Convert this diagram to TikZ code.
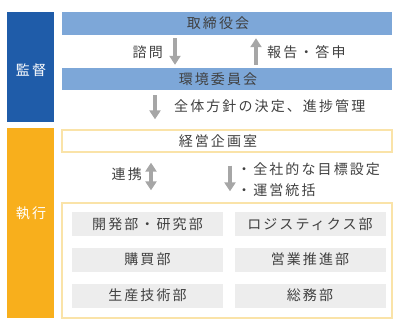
\documentclass[tikz,border=0pt]{standalone}
\usepackage{fontspec}
\setmainfont{Noto Sans CJK JP}[LetterSpace=15]
\usetikzlibrary{arrows.meta}
\definecolor{kanblue}{HTML}{1F5CA9}
\definecolor{barblue}{HTML}{7DA7D8}
\definecolor{exeorange}{HTML}{F8AF1C}
\definecolor{paleorange}{HTML}{FAE3A8}
\definecolor{deptgray}{HTML}{EDEDED}
\definecolor{arrgray}{HTML}{A6A6A6}
\definecolor{txtgray}{HTML}{404040}

\begin{document}
\begin{tikzpicture}[x=1pt,y=-1pt]
  \tikzset{sidebox/.style = {fill=#1, draw=none, minimum width=47pt, inner sep=0pt}}
  \tikzset{bar/.style = {fill=barblue, draw=none, minimum width=330pt, minimum height=23pt, inner sep=0pt}}
  \tikzset{framebox/.style = {draw=paleorange, line width=1.3pt, fill=white, inner sep=0pt}}
  \tikzset{dept/.style = {fill=deptgray, draw=none, minimum width=151pt, minimum height=24pt, inner sep=0pt, font=\fontsize{14pt}{16pt}\selectfont, text=txtgray}}
  \tikzset{txt/.style = {font=\fontsize{14pt}{16pt}\selectfont, text=txtgray, inner sep=0pt}}
  \tikzset{wtxt/.style = {font=\fontsize{14pt}{16pt}\selectfont, text=white, inner sep=0pt}}
  \tikzset{arr/.style = {draw=arrgray, line width=4pt, -{Triangle[width=11pt,length=9pt]}}}
  \tikzset{dblarr/.style = {draw=arrgray, line width=4pt, {Triangle[width=11pt,length=9pt]}-{Triangle[width=11pt,length=9pt]}}}
  \useasboundingbox (0,0) rectangle (400,325);

  % left column
  \node[sidebox=kanblue, minimum height=110pt] (kansa) at (30.5,67) {};
  \node[wtxt] (kansatxt) at (31,70) {監督};
  \node[sidebox=exeorange, minimum height=190pt] (shikko) at (30.5,223) {};
  \node[wtxt] (shikkotxt) at (31,213) {執行};

  % supervision
  \node[bar] (board) at (227,23.5) {};
  \node[txt] (boardtxt) at (218,23.5) {取締役会};
  \node[bar, minimum height=22pt] (env) at (227,79) {};
  \node[txt] (envtxt) at (218,79) {環境委員会};

  \coordinate (c1) at (175,0);
  \coordinate (c2) at (256,0);
  \coordinate (c3) at (155,0);
  \draw[arr, shorten <=3pt, shorten >=3pt] (c1 |- board.south) -- (c1 |- env.north);
  \draw[arr, shorten <=3pt, shorten >=3pt] (c2 |- env.north) -- (c2 |- board.south);
  \node[txt, anchor=east] (shimon) at (163,52) {諮問};
  \node[txt, anchor=west] (hokoku) at (267,52) {報告・答申};

  % execution
  \node[framebox, minimum width=330pt, minimum height=22pt] (kikaku) at (227,141) {};
  \node[txt] (kikakutxt) at (218,141) {経営企画室};
  \draw[arr, shorten <=5pt, shorten >=10pt] (c3 |- env.south) -- (c3 |- kikaku.north);
  \node[txt, anchor=west] (hoshin) at (174,106) {全体方針の決定、進捗管理};

  \node[framebox, minimum width=330pt, minimum height=115pt] (depts) at (227,260.5) {};
  \coordinate (c4) at (151,0);
  \coordinate (c5) at (230,0);
  \draw[dblarr, shorten <=10pt, shorten >=12pt] (c4 |- kikaku.south) -- (c4 |- depts.north);
  \draw[arr, shorten <=13pt, shorten >=11pt] (c5 |- kikaku.south) -- (c5 |- depts.north);
  \node[txt, anchor=east] (renkei) at (142,174) {連携};
  \node[txt, anchor=west] (mokuhyo) at (237,169) {・全社的な目標設定};
  \node[txt, anchor=west] (tokatsu) at (237,190) {・運営統括};

  % departments
  \node[dept] (kaihatsu) at (147.5,224) {開発部・研究部};
  \node[dept] (logi) at (310,224) {ロジスティクス部};
  \node[dept] (kobai) at (147.5,259.5) {購買部};
  \node[dept] (eigyo) at (310,259.5) {営業推進部};
  \node[dept] (seisan) at (147.5,295.5) {生産技術部};
  \node[dept] (somu) at (310,295.5) {総務部};
\end{tikzpicture}
\end{document}
